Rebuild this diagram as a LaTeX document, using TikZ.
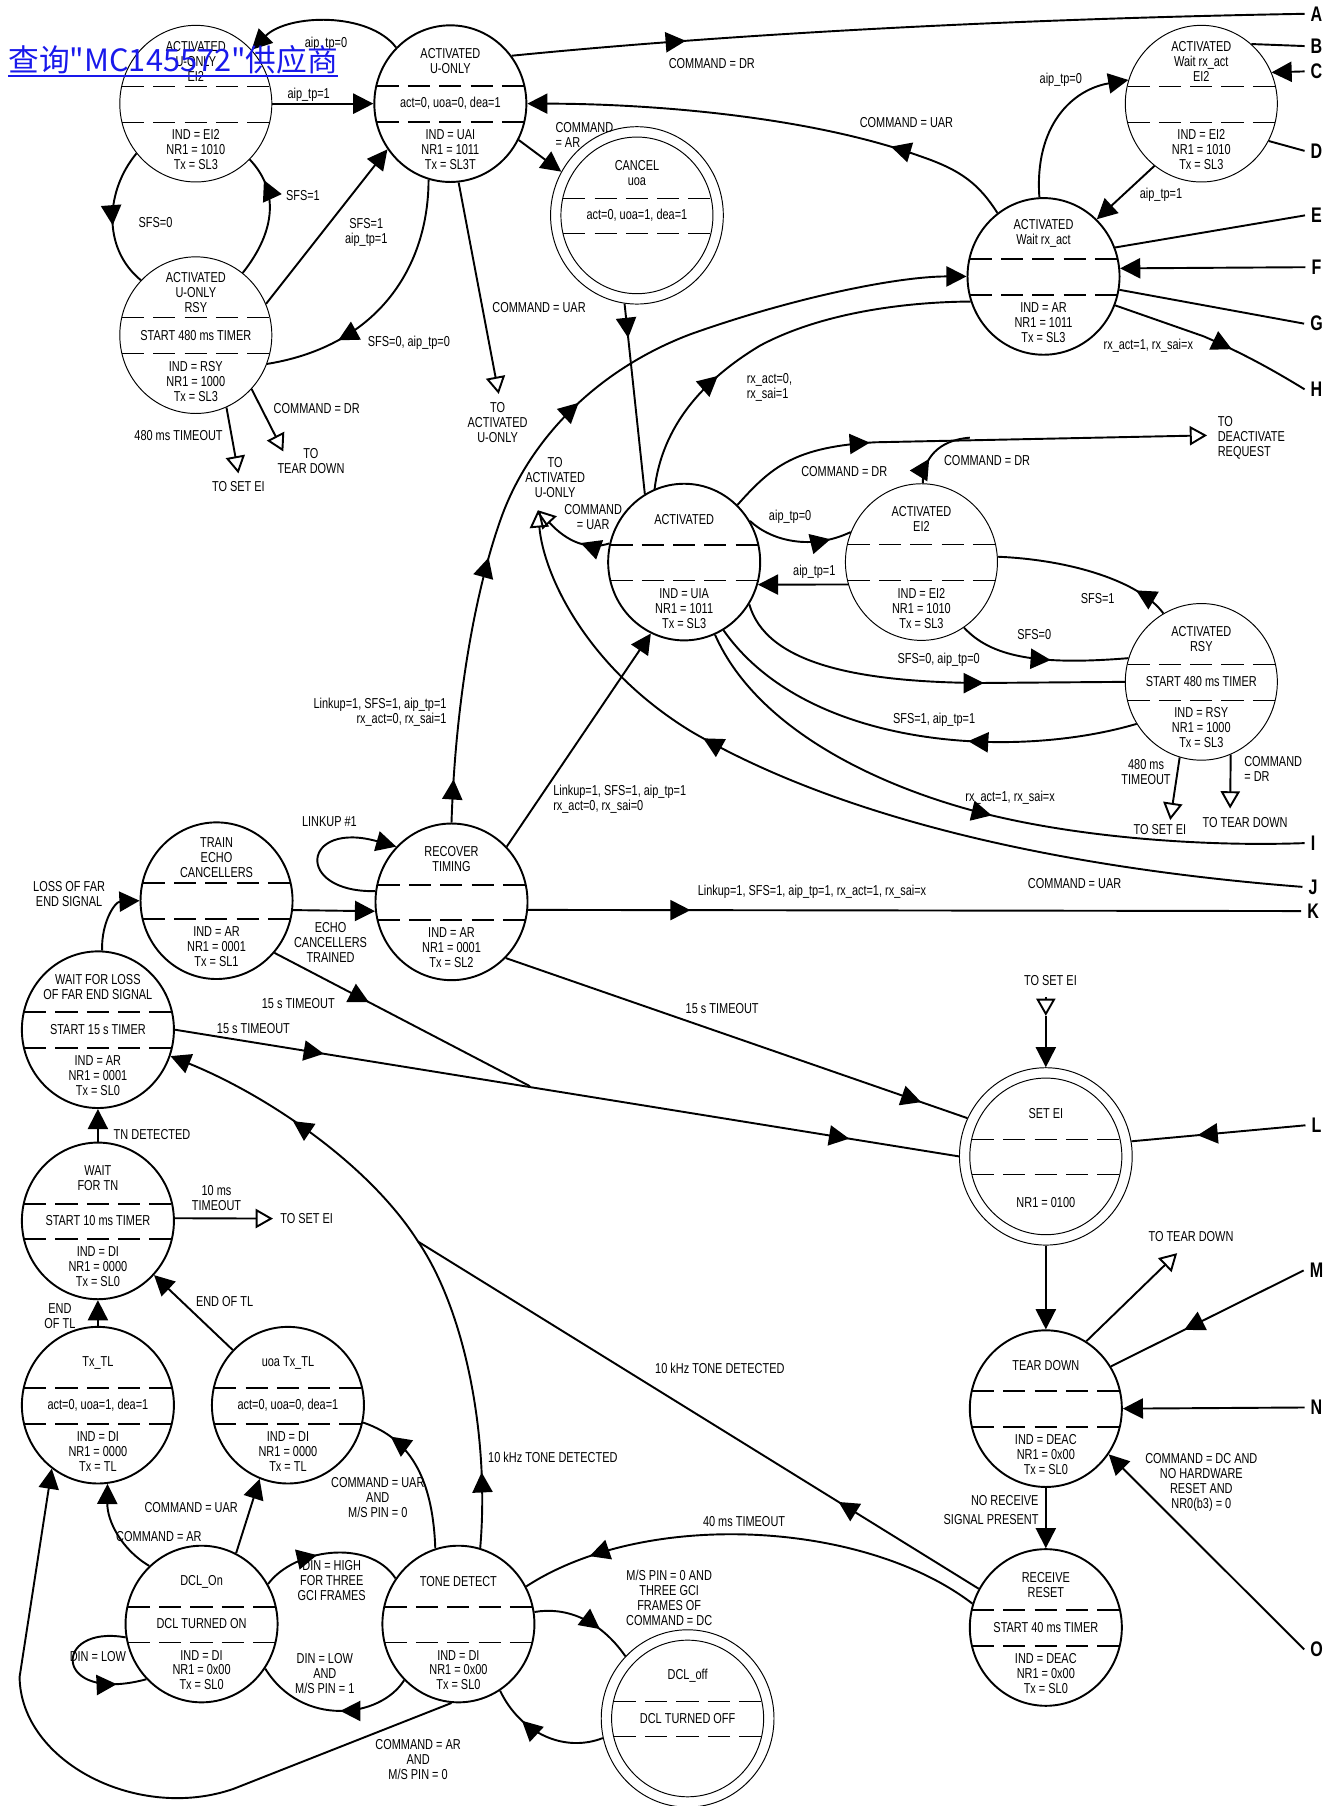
\documentclass[tikz,border=0pt]{standalone}
\usepackage{fontspec}
\setmainfont{Liberation Sans}[FakeStretch=0.76]
\newfontfamily\cjk{Noto Sans CJK SC}
\usepackage{xcolor}
\usetikzlibrary{arrows.meta,calc,decorations.markings,shapes.geometric}
\definecolor{wmblue}{RGB}{25,25,235}

% one state: ellipse, two dashed rules, title / action / output text
\newcommand{\fsmstate}[6][b]{%
  \node[#1state] (#2) at (#3) {};
  \draw[#1dash] ([shift={(-64,-15)}]#2.center) -- ([shift={(64,-15)}]#2.center);
  \draw[#1dash] ([shift={(-64,16)}]#2.center) -- ([shift={(64,16)}]#2.center);
  \node[lbl] (#2-t) at ([shift={(0,-37)}]#2.center) {#4};
  \node[lbl] (#2-m) at (#2.center) {#5};
  \node[lbl] (#2-b) at ([shift={(0,40)}]#2.center) {#6};
}

\begin{document}
\begin{tikzpicture}[x=0.6pt, y=-0.6pt,
  bstate/.style={ellipse, draw, line width=1pt, minimum width=79.2pt, minimum height=81.6pt, inner sep=0pt},
  tstate/.style={bstate, line width=0.5pt},
  dstate/.style={bstate, line width=0.5pt, minimum width=90pt, minimum height=92.4pt},
  bdash/.style={line width=1pt, dash pattern=on 11.5pt off 4.8pt},
  tdash/.style={line width=0.5pt, dash pattern=on 11.5pt off 4.8pt},
  ddash/.style={tdash},
  lbl/.style={font=\fontsize{7.5}{7.8}\selectfont, align=center, inner sep=0pt},
  ltr/.style={font=\fontsize{11}{13}\selectfont\bfseries, inner sep=3pt},
  conn/.style={line width=1pt},
  arr/.style={conn, -{Triangle[length=10.5pt,width=10.5pt]}},
  toarr/.style={conn, -{Triangle[open,length=9pt,width=10pt]}},
  midtip/.style={postaction={decorate, decoration={markings,
    mark=at position #1 with {\arrow{Triangle[length=10.5pt,width=10.5pt]}}}}},
]
\useasboundingbox (0,0) rectangle (1159,1568);

% States
\fsmstate[t]{aue}{170,90}{ACTIVATED\\U-ONLY\\EI2}{}{IND = EI2\\NR1 = 1010\\Tx = SL3}
\fsmstate{au}{391,90}{ACTIVATED\\U-ONLY}{act=0, uoa=0, dea=1}{IND = UAI\\NR1 = 1011\\Tx = SL3T}
\fsmstate[t]{aur}{170,291}{ACTIVATED\\U-ONLY\\RSY}{START 480 ms TIMER}{IND = RSY\\NR1 = 1000\\Tx = SL3}
\fsmstate[d]{can}{553,187}{CANCEL\\uoa}{act=0, uoa=1, dea=1}{}
\fsmstate[t]{awe}{1043,90}{ACTIVATED\\Wait rx\_act\\EI2}{}{IND = EI2\\NR1 = 1010\\Tx = SL3}
\fsmstate{awr}{906,240}{ACTIVATED\\Wait rx\_act}{}{IND = AR\\NR1 = 1011\\Tx = SL3}
\fsmstate{act}{594,488}{ACTIVATED}{}{IND = UIA\\NR1 = 1011\\Tx = SL3}
\fsmstate[t]{aee}{800,488}{ACTIVATED\\EI2}{}{IND = EI2\\NR1 = 1010\\Tx = SL3}
\fsmstate[t]{ars}{1043,592}{ACTIVATED\\RSY}{START 480 ms TIMER}{IND = RSY\\NR1 = 1000\\Tx = SL3}
\fsmstate{tec}{188,782}{TRAIN\\ECHO\\CANCELLERS}{}{IND = AR\\NR1 = 0001\\Tx = SL1}
\fsmstate{rt}{392,783}{RECOVER\\TIMING}{}{IND = AR\\NR1 = 0001\\Tx = SL2}
\fsmstate{wfl}{85,894}{WAIT FOR LOSS\\OF FAR END SIGNAL}{START 15 s TIMER}{IND = AR\\NR1 = 0001\\Tx = SL0}
\fsmstate{wtn}{85,1060}{WAIT\\FOR TN}{START 10 ms TIMER}{IND = DI\\NR1 = 0000\\Tx = SL0}
\fsmstate{txtl}{85,1220}{Tx\_TL}{act=0, uoa=1, dea=1}{IND = DI\\NR1 = 0000\\Tx = TL}
\fsmstate{utxtl}{250,1220}{uoa Tx\_TL}{act=0, uoa=0, dea=1}{IND = DI\\NR1 = 0000\\Tx = TL}
\fsmstate{dclon}{175,1410}{DCL\_On}{DCL TURNED ON}{IND = DI\\NR1 = 0x00\\Tx = SL0}
\fsmstate{tone}{398,1410}{TONE DETECT}{}{IND = DI\\NR1 = 0x00\\Tx = SL0}
\fsmstate[d]{dcloff}{597,1492}{DCL\_off}{DCL TURNED OFF}{}
\fsmstate[d]{setei}{908,1004}{SET EI}{}{NR1 = 0100}
\fsmstate{tdown}{908,1223}{TEAR DOWN}{}{IND = DEAC\\NR1 = 0x00\\Tx = SL0}
\fsmstate{rreset}{908,1413}{RECEIVE\\RESET}{START 40 ms TIMER}{IND = DEAC\\NR1 = 0x00\\Tx = SL0}
\foreach \s in {can,dcloff,setei}
  \draw[line width=0.5pt] (\s.center) ellipse [x radius=66, y radius=68];

% Off-page connector letters
\node[ltr] (lA) at (1143,12) {A};
\node[ltr] (lB) at (1143,40) {B};
\node[ltr] (lC) at (1143,62) {C};
\node[ltr] (lD) at (1143,131) {D};
\node[ltr] (lE) at (1143,187) {E};
\node[ltr] (lF) at (1143,232) {F};
\node[ltr] (lG) at (1143,281) {G};
\node[ltr] (lH) at (1143,338) {H};
\node[ltr] (lI) at (1140,732) {I};
\node[ltr] (lJ) at (1140,770) {J};
\node[ltr] (lK) at (1140,791) {K};
\node[ltr] (lL) at (1143,977) {L};
\node[ltr] (lM) at (1143,1103) {M};
\node[ltr] (lN) at (1143,1222) {N};
\node[ltr] (lO) at (1143,1432) {O};

% Free ends
\coordinate (toseia) at (207,411);
\coordinate (totda) at (246,392);
\coordinate (toaua) at (433,342);
\coordinate (toaub) at (467,443);
\coordinate (todeact) at (1048,378);
\coordinate (jdr) at (842,380);
\coordinate (toseib) at (1016,712);
\coordinate (totdb) at (1068,702);
\coordinate (jto) at (460,943);
\coordinate (toseic) at (237,1058);
\coordinate (jtone) at (363,1078);
\coordinate (tseitop) at (908,866);
\coordinate (tseitip) at (908,882);
\coordinate (totdc) at (1022,1088);

% U-only group
\draw[arr] (aue.east) -- (au.west);
\draw[arr] (au.134) .. controls (320,10) and (250,12) .. (aue.44);
\draw[conn, midtip=0.55] (aue.220) .. controls (92,165) and (88,215) .. (aur.135);
\draw[conn, midtip=0.8] (aur.53) .. controls (240,200) and (242,165) .. (aue.-46);
\draw[arr] (aur.24) -- (au.216);
\draw[conn, midtip=0.72] (au.254) .. controls (372,230) and (330,300) .. (aur.-22);
\draw[toarr] (aur.-67) -- (toseia);
\draw[toarr] (aur.-44) -- (totda);
\draw[toarr] (au.-84) -- (toaua);
\draw[arr] (au.-28) -- (can.150);
\draw[conn, midtip=0.22] (au.38) .. controls (650,28) and (900,16) .. (lA.west);
\draw[arr, midtip=0.26] (awr.126) .. controls (850,160) and (835,148) .. (800,136)
  .. controls (700,100) and (560,90) .. (au.east);
\draw[conn, midtip=0.18] (can.262) -- (act.120);

% Activated group
\draw[toarr, midtip=0.35] (act.166) .. controls (510,478) and (492,470) .. (toaub);
\draw[toarr, midtip=0.68] (lJ.west) .. controls (900,752) and (720,705) .. (600,635)
  .. controls (510,580) and (472,500) .. (toaub);
\draw[conn, midtip=0.33] (act.112) .. controls (575,370) and (610,330) .. (660,300)
  .. controls (720,268) and (800,262) .. (awr.199);
\draw[arr, midtip=0.05, midtip=0.31, midtip=0.52] (rt.north)
  .. controls (395,620) and (410,520) .. (435,450)
  .. controls (460,380) and (520,320) .. (600,290)
  .. controls (690,258) and (780,240) .. (awr.west);
\draw[conn, midtip=0.8] (act.32) .. controls (670,470) and (705,478) .. (aee.157);
\draw[arr] (aee.197) -- (act.-17);
\draw[toarr, midtip=0.31] (act.47) .. controls (670,405) and (690,388) .. (760,384) -- (todeact);
\draw[conn, midtip=0.35] (aee.89) .. controls (801,398) and (815,382) .. (jdr);
\draw[conn, midtip=0.55] (aee.-57) .. controls (860,570) and (900,578) .. (ars.162);
\draw[conn, midtip=0.2] (ars.119) .. controls (990,505) and (930,486) .. (aee.4);
\draw[conn, midtip=0.65] (act.-33) .. controls (665,575) and (740,592) .. (850,593) -- (ars.west);
\draw[conn, midtip=0.38] (ars.213) .. controls (880,660) and (700,650) .. (act.-60);
\draw[conn, midtip=0.52] (act.-67) .. controls (660,640) and (780,690) .. (870,710)
  .. controls (950,728) and (1050,735) .. (lI.west);
\draw[toarr] (ars.254) -- (toseib);
\draw[toarr] (ars.-68) -- (totdb);

% Wait rx_act group
\draw[arr] (awr.93) .. controls (898,110) and (930,78) .. (awe.162);
\draw[arr] (awe.233) -- (awr.47);
\draw[conn] (awe.50) -- (lB.west);
\draw[arr] (lC.west) -- (awe.24);
\draw[conn] (awe.-29) -- (lD.west);
\draw[conn] (awr.22) -- (lE.west);
\draw[arr] (lF.west) -- (awr.6);
\draw[conn] (awr.-10) -- (lG.west);
\draw[conn, midtip=0.6] (awr.-22) -- (1045,292) .. controls (1075,305) and (1100,318) .. (lH.west);

% Start-up group
\draw[arr] (rt.172) .. controls (255,775) and (262,712) .. (rt.135);
\draw[arr] (tec.-7) -- (rt.187);
\draw[arr] (wfl.87) .. controls (88,800) and (100,783) .. (tec.180);
\draw[conn, midtip=0.37] (tec.-42) -- (jto);
\draw[conn, midtip=0.19, midtip=0.86] (wfl.east) -- (setei.west);
\draw[conn, midtip=0.9] (rt.-46) -- (setei.154);
\draw[arr] (rt.45) -- (act.245);
\draw[conn, midtip=0.21] (rt.-6) -- (lK.west);
\draw[arr] (wtn.north) -- (wfl.south);
\draw[toarr] (wtn.2) -- (toseic);
\draw[arr] (txtl.north) -- (wtn.south);
\draw[arr] (utxtl.135) -- (wtn.-44);

% Tone / DCL group
\draw[arr, midtip=0.12, midtip=0.78] (tone.74) .. controls (425,1250) and (405,1140) .. (jtone)
  .. controls (320,1010) and (230,950) .. (wfl.-20);
\draw[conn, midtip=0.25] (rreset.150) -- (jtone);
\draw[conn, midtip=0.8] (tone.107) .. controls (376,1290) and (360,1250) .. (utxtl.-13);
\draw[arr] (dclon.64) -- (utxtl.249);
\draw[arr] (dclon.132) .. controls (105,1345) and (93,1320) .. (txtl.-83);
\draw[conn, midtip=0.8] (dclon.190) .. controls (45,1410) and (45,1480) .. (dclon.225);
\draw[conn, midtip=0.4] (dclon.31) .. controls (255,1345) and (320,1335) .. (tone.144);
\draw[conn, midtip=0.45] (tone.226) .. controls (330,1492) and (262,1500) .. (dclon.-35);
\draw[arr] (tone.-95) -- (203,1553) .. controls (120,1582) and (18,1530) .. (17,1456) -- (txtl.234);
\draw[conn, midtip=0.65] (tone.9) .. controls (490,1395) and (520,1405) .. (dcloff.135);
\draw[conn, midtip=0.7] (dcloff.193) .. controls (490,1522) and (452,1505) .. (tone.-58);
\draw[conn, midtip=0.85] (rreset.162) .. controls (750,1320) and (560,1310) .. (tone.29);

% Tear down group
\draw[toarr] (tseitop) -- (tseitip);
\draw[arr] (tseitip) -- (setei.north);
\draw[conn, midtip=0.62] (lL.west) -- (setei.10);
\draw[arr] (setei.south) -- (tdown.north);
\draw[toarr] (tdown.59) -- (totdc);
\draw[conn, midtip=0.62] (lM.west) -- (tdown.33);
\draw[arr] (lN.west) -- (tdown.east);
\draw[arr] (lO.west) -- (tdown.-36);
\draw[arr] (tdown.south) -- (rreset.north);

% Transition labels
\node[lbl] (t-aip0a) at (283,38) {aip\_tp=0};
\node[lbl] (t-aip1a) at (268,82) {aip\_tp=1};
\node[lbl] (t-sfs1a) at (263,170) {SFS=1};
\node[lbl] (t-sfs0a) at (135,193) {SFS=0};
\node[lbl] (t-sfsaip1) at (318,202) {SFS=1\\aip\_tp=1};
\node[lbl] (t-sfsaip0) at (355,298) {SFS=0, aip\_tp=0};
\node[lbl] (t-drA) at (275,355) {COMMAND = DR};
\node[lbl] (t-480a) at (155,378) {480 ms TIMEOUT};
\node[lbl] (t-seia) at (207,422) {TO SET EI};
\node[lbl] (t-tda) at (270,400) {TO\\TEAR DOWN};
\node[lbl] (t-uarA) at (468,267) {COMMAND = UAR};
\node[lbl] (t-toaua) at (432,367) {TO\\ACTIVATED\\U-ONLY};
\node[lbl, anchor=west, align=left] (t-ar) at (482,117) {COMMAND\\= AR};
\node[lbl] (t-drB) at (618,55) {COMMAND = DR};
\node[lbl] (t-uarB) at (787,106) {COMMAND = UAR};
\node[lbl] (t-aip0b) at (921,69) {aip\_tp=0};
\node[lbl] (t-aip1b) at (1008,169) {aip\_tp=1};
\node[lbl] (t-rx1a) at (997,300) {rx\_act=1, rx\_sai=x};
\node[lbl, anchor=west, align=left] (t-rx0a) at (648,336) {rx\_act=0,\\rx\_sai=1};
\node[lbl] (t-toaub) at (482,415) {TO\\ACTIVATED\\U-ONLY};
\node[lbl] (t-uarC) at (515,449) {COMMAND\\= UAR};
\node[lbl] (t-drC) at (733,409) {COMMAND = DR};
\node[lbl] (t-drD) at (857,400) {COMMAND = DR};
\node[lbl, anchor=west, align=left] (t-deact) at (1057,380) {TO\\DEACTIVATE\\REQUEST};
\node[lbl] (t-aip0c) at (686,449) {aip\_tp=0};
\node[lbl] (t-aip1c) at (707,496) {aip\_tp=1};
\node[lbl] (t-sfs1b) at (953,520) {SFS=1};
\node[lbl] (t-sfs0b) at (898,551) {SFS=0};
\node[lbl] (t-sfsaip0b) at (815,573) {SFS=0, aip\_tp=0};
\node[lbl] (t-sfsaip1b) at (811,625) {SFS=1, aip\_tp=1};
\node[lbl] (t-480b) at (995,670) {480 ms\\TIMEOUT};
\node[lbl, anchor=west, align=left] (t-drE) at (1080,668) {COMMAND\\= DR};
\node[lbl] (t-seib) at (1007,720) {TO SET EI};
\node[lbl] (t-tdb) at (1081,714) {TO TEAR DOWN};
\node[lbl] (t-rx1b) at (877,693) {rx\_act=1, rx\_sai=x};
\node[lbl] (t-uarJ) at (933,767) {COMMAND = UAR};
\node[lbl, anchor=east, align=right] (t-link0) at (388,618) {Linkup=1, SFS=1, aip\_tp=1\\rx\_act=0, rx\_sai=1};
\node[lbl, anchor=west, align=left] (t-link00) at (480,694) {Linkup=1, SFS=1, aip\_tp=1\\rx\_act=0, rx\_sai=0};
\node[lbl] (t-link1) at (286,713) {LINKUP \#1};
\node[lbl] (t-linkK) at (705,774) {Linkup=1, SFS=1, aip\_tp=1, rx\_act=1, rx\_sai=x};
\node[lbl] (t-loss) at (60,776) {LOSS OF FAR\\END SIGNAL};
\node[lbl] (t-echo) at (287,818) {ECHO\\CANCELLERS\\TRAINED};
\node[lbl] (t-15a) at (259,871) {15 s TIMEOUT};
\node[lbl] (t-15b) at (220,893) {15 s TIMEOUT};
\node[lbl] (t-15c) at (627,876) {15 s TIMEOUT};
\node[lbl] (t-tn) at (132,985) {TN DETECTED};
\node[lbl] (t-10ms) at (188,1040) {10 ms\\TIMEOUT};
\node[lbl, anchor=west] (t-seic) at (243,1058) {TO SET EI};
\node[lbl] (t-endtl) at (52,1143) {END\\OF TL};
\node[lbl] (t-endtlb) at (195,1130) {END OF TL};
\node[lbl] (t-10khz) at (625,1188) {10 kHz TONE DETECTED};
\node[lbl] (t-10khzb) at (480,1265) {10 kHz TONE DETECTED};
\node[lbl] (t-uarms) at (328,1300) {COMMAND = UAR\\AND\\M/S PIN = 0};
\node[lbl] (t-uarD) at (166,1309) {COMMAND = UAR};
\node[lbl] (t-arB) at (138,1334) {COMMAND = AR};
\node[lbl] (t-dinhi) at (288,1372) {DIN = HIGH\\FOR THREE\\GCI FRAMES};
\node[lbl] (t-dinlo) at (85,1438) {DIN = LOW};
\node[lbl] (t-dinlob) at (282,1453) {DIN = LOW\\AND\\M/S PIN = 1};
\node[lbl] (t-arms) at (363,1528) {COMMAND = AR\\AND\\M/S PIN = 0};
\node[lbl] (t-dc) at (581,1387) {M/S PIN = 0 AND\\THREE GCI\\FRAMES OF\\COMMAND = DC};
\node[lbl] (t-40ms) at (646,1321) {40 ms TIMEOUT};
\node[lbl] (t-seid) at (912,851) {TO SET EI};
\node[lbl] (t-tdc) at (1034,1074) {TO TEAR DOWN};
\node[lbl] (t-dcO) at (1043,1287) {COMMAND = DC AND\\NO HARDWARE\\RESET AND\\NR0(b3) = 0};
\node[lbl, anchor=east, align=right] (t-norx) at (902,1311) {NO RECEIVE\\[2pt]SIGNAL PRESENT};

% Overprinted link text
\node[font=\cjk\fontsize{16}{18}\selectfont, text=wmblue, anchor=base west, inner sep=0pt] (wmark) at (7,62) {查询"MC145572"供应商};
\draw[wmblue, line width=1.1pt] ([yshift=-2.6pt]wmark.base west) -- ([yshift=-2.6pt]wmark.base east);
\end{tikzpicture}
\end{document}
